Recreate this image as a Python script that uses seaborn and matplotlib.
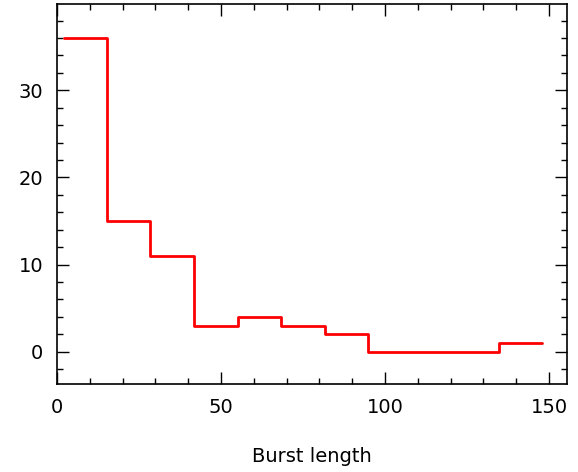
import numpy as np
import pandas as pd
import matplotlib
matplotlib.use("Agg")
import matplotlib.pyplot as plt
from matplotlib.ticker import MultipleLocator
import seaborn as sns

# histogram of burst lengths (bin edges and counts)
bin_edges = [2, 15.3, 28.5, 41.8, 55.1, 68.4, 81.6, 94.9, 108.2, 121.5, 134.7, 148]
counts = [36, 15, 11, 3, 4, 3, 2, 0, 0, 0, 1]

# step line: the last count is repeated so the final bin gets its flat top
steps = pd.DataFrame({'edge': bin_edges, 'count': counts + [counts[-1]]})

sns.set_style("ticks", {'text.color': 'black', 'xtick.color': 'black',
                        'ytick.color': 'black', 'axes.labelcolor': 'black'})
plt.rcParams['font.family'] = ['DejaVu Sans']

fig = plt.figure(figsize=(5.78, 4.72), dpi=100)
ax = fig.add_axes([0.0986, 0.1864, 0.8824, 0.805])

sns.lineplot(data=steps, x='edge', y='count', estimator=None, sort=False,
             drawstyle='steps-post', color='#ff0000', linewidth=2.0, ax=ax)

ax.set_xlim(0, 155.5)
ax.set_ylim(-3.7, 39.9)
ax.xaxis.set_major_locator(MultipleLocator(50))
ax.xaxis.set_minor_locator(MultipleLocator(10))
ax.yaxis.set_major_locator(MultipleLocator(10))
ax.yaxis.set_minor_locator(MultipleLocator(2))

ax.tick_params(which='both', direction='in', top=True, right=True,
               width=1.0, color='black', labelcolor='black')
ax.tick_params(which='major', length=8.6, labelsize=14, pad=10)
ax.tick_params(which='minor', length=4.3)
for sp in ax.spines.values():
    sp.set_linewidth(1.2)
    sp.set_color('black')

ax.set_xlabel("Burst length", fontsize=14, labelpad=22, color='black')
ax.set_ylabel("")

fig.savefig("out.png", dpi=100)
